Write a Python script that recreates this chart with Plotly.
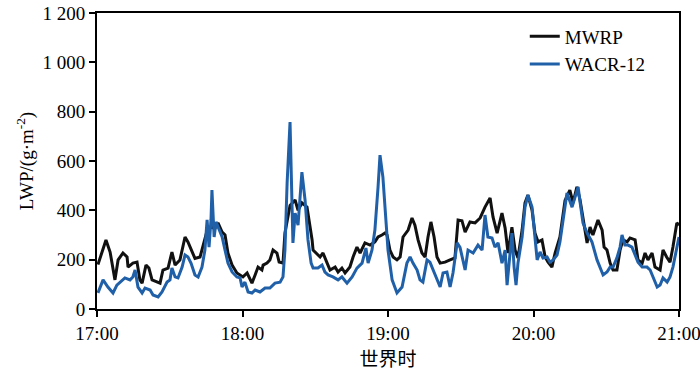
import plotly.graph_objects as go

# minutes after 17:00 and LWP values (g·m^-2)
mwrp_min = [0.4, 3.7, 5.4, 7.4, 8.7, 10.7, 12.4, 12.8, 14.8, 16.5, 17.7, 18.6, 20.2, 21.4, 22.7, 24.7, 26.0, 27.2, 29.3, 30.9,
            32.2, 34.2, 36.3, 37.5, 39.2, 40.4, 42.5, 44.5, 45.8, 48.7, 49.9, 51.6, 52.8, 54.0, 55.7, 57.7, 59.0, 60.2, 61.9, 63.9,
            65.2, 66.4, 68.0, 68.5, 70.1, 71.3, 72.6, 74.2, 75.1, 76.7, 77.5, 79.6, 81.7, 82.9, 84.5, 85.8, 86.6, 88.7, 89.1, 92.0,
            93.2, 94.9, 96.1, 98.2, 99.4, 101.0, 102.3, 104.3, 105.6, 107.2, 108.5, 110.5, 112.6, 114.6, 115.9, 117.5, 118.8, 119.6, 120.8, 122.1,
            123.7, 125.0, 126.2, 128.3, 129.9, 131.1, 132.4, 134.0, 135.3, 136.5, 137.7, 139.0, 140.2, 141.5, 143.5, 145.6, 147.6, 148.9, 150.5, 151.8,
            153.8, 155.9, 158.0, 160.0, 162.1, 163.3, 165.0, 167.0, 168.3, 169.5, 171.1, 172.4, 173.6, 175.3, 176.5, 177.7, 179.4, 180.6, 181.9, 183.5,
            184.8, 186.0, 187.6, 188.9, 190.9, 193.0, 195.0, 196.3, 197.9, 199.2, 200.4, 202.1, 203.3, 204.5, 206.6, 208.3, 209.1, 210.3, 211.6, 212.8,
            214.4, 215.7, 216.9, 218.6, 219.8, 221.9, 223.1, 224.8, 226.0, 227.2, 228.9, 230.1, 232.2, 233.4, 234.9, 236.3, 237.5, 239.1, 240.0]
mwrp_val = [180, 280, 231, 118, 199, 227, 211, 170, 186, 190, 118, 105, 178, 166, 118, 109, 105, 158, 166, 231,
            178, 199, 292, 272, 231, 205, 211, 280, 332, 328, 349, 312, 300, 227, 178, 146, 138, 130, 146, 105,
            138, 170, 158, 178, 186, 199, 239, 227, 190, 186, 308, 420, 442, 400, 430, 420, 413, 280, 239, 211,
            227, 186, 158, 170, 150, 166, 146, 170, 211, 251, 227, 268, 259, 272, 292, 300, 308, 300, 239, 211,
            199, 211, 292, 320, 369, 340, 280, 227, 211, 292, 353, 292, 211, 186, 190, 199, 207, 361, 358, 312,
            353, 349, 369, 413, 450, 373, 308, 389, 328, 227, 332, 239, 207, 320, 430, 462, 401, 308, 272, 280,
            211, 190, 170, 227, 292, 440, 482, 430, 495, 442, 373, 268, 332, 300, 361, 320, 251, 239, 186, 158,
            158, 239, 280, 272, 288, 280, 199, 186, 227, 199, 227, 170, 158, 239, 211, 190, 251, 349, 340]

wacr_min = [0.4, 2.5, 4.5, 6.6, 8.2, 9.5, 11.5, 13.6, 14.8, 15.7, 16.9, 18.6, 19.8, 21.9, 23.1, 25.2, 26.8, 28.9, 30.1, 30.9,
            32.2, 33.4, 35.1, 36.3, 37.5, 38.8, 40.4, 41.7, 43.3, 44.5, 45.4, 46.2, 47.0, 47.4, 48.3, 49.1, 49.9, 51.6, 52.8, 54.0,
            55.7, 57.7, 59.0, 59.8, 61.0, 62.3, 63.9, 65.2, 67.2, 69.3, 71.3, 73.4, 75.5, 76.7, 77.5, 78.4, 79.6, 80.8, 81.7, 82.9,
            84.5, 85.8, 87.0, 88.3, 89.1, 91.1, 92.8, 94.0, 95.3, 97.3, 99.4, 101.0, 103.1, 105.2, 107.2, 109.3, 110.9, 111.8, 113.4, 114.6,
            115.9, 116.7, 117.9, 119.2, 120.0, 121.7, 123.7, 125.8, 127.8, 129.1, 130.3, 132.0, 133.2, 134.4, 136.1, 137.3, 138.6, 140.2, 141.5, 142.7,
            144.3, 145.6, 146.8, 148.5, 149.7, 151.8, 153.0, 155.1, 157.1, 158.8, 160.0, 161.2, 162.9, 164.1, 165.4, 167.0, 168.3, 169.1, 170.3, 171.1,
            172.0, 172.8, 173.6, 175.3, 176.5, 177.7, 179.4, 180.6, 181.5, 182.7, 183.9, 185.6, 186.8, 188.1, 189.7, 190.9, 192.2, 193.8, 195.9, 197.1,
            198.4, 199.2, 200.4, 202.1, 204.1, 206.2, 207.4, 208.7, 210.3, 211.6, 212.8, 214.4, 215.7, 216.5, 217.7, 219.0, 220.6, 221.9, 223.1, 224.8,
            226.8, 228.1, 229.3, 231.0, 232.2, 233.4, 235.1, 236.3, 237.5, 238.8, 240.0]
wacr_val = [65, 118, 89, 65, 97, 109, 126, 118, 130, 158, 89, 65, 85, 77, 57, 49, 69, 109, 118, 166,
            130, 126, 170, 219, 211, 185, 138, 130, 170, 239, 361, 251, 361, 482, 292, 353, 332, 292, 239, 186,
            150, 130, 126, 89, 109, 69, 65, 77, 69, 85, 85, 105, 109, 130, 239, 511, 758, 268, 389, 340,
            555, 442, 280, 186, 166, 166, 178, 150, 138, 130, 118, 130, 105, 130, 166, 186, 247, 186, 239, 320,
            495, 624, 535, 373, 239, 118, 65, 89, 186, 211, 186, 158, 118, 109, 199, 190, 158, 118, 89, 146,
            150, 89, 146, 268, 250, 158, 239, 227, 259, 239, 381, 292, 288, 251, 268, 186, 239, 97, 211, 308,
            170, 97, 186, 292, 413, 462, 413, 292, 199, 231, 207, 211, 190, 199, 219, 272, 361, 470, 413, 454,
            495, 434, 349, 308, 272, 199, 166, 138, 150, 170, 170, 207, 251, 300, 259, 259, 251, 219, 190, 170,
            170, 158, 130, 89, 97, 126, 109, 130, 170, 239, 292]

x_tickvals = [0, 60, 120, 180, 240]
x_ticktext = ["17:00", "18:00", "19:00", "20:00", "21:00"]
y_tickvals = [0, 200, 400, 600, 800, 1000, 1200]
y_ticktext = ["0", "200", "400", "600", "800", "1 000", "1 200"]

fig = go.Figure()
fig.add_trace(go.Scatter(x=mwrp_min, y=mwrp_val, mode="lines", name="MWRP",
                         line=dict(color="#111111", width=3)))
fig.add_trace(go.Scatter(x=wacr_min, y=wacr_val, mode="lines", name="WACR-12",
                         line=dict(color="#2060a8", width=3)))

font = dict(family="Liberation Serif, Times New Roman, serif", size=19, color="black")
fig.update_layout(
    width=700, height=374,
    margin=dict(l=97, r=21, t=13, b=65),
    paper_bgcolor="white", plot_bgcolor="white",
    font=font,
    showlegend=True,
    legend=dict(x=0.735, y=0.985, xanchor="left", yanchor="top",
                bgcolor="rgba(0,0,0,0)", font=font, tracegroupgap=0),
)
fig.update_xaxes(range=[0, 240], tickvals=x_tickvals, ticktext=x_ticktext,
                 showline=True, linecolor="black", linewidth=2, mirror=True,
                 ticks="outside", ticklen=6, tickwidth=2, tickcolor="black",
                 showgrid=False, zeroline=False, automargin=False,
                 ticklabeloverflow="allow",
                 title=dict(text="世界时", font=dict(family="Noto Sans CJK SC", size=19), standoff=6))
fig.update_yaxes(range=[0, 1200], tickvals=y_tickvals, ticktext=y_ticktext,
                 showline=True, linecolor="black", linewidth=2, mirror=True,
                 ticks="outside", ticklen=6, tickwidth=2, tickcolor="black",
                 showgrid=False, zeroline=False, automargin=False,
                 ticklabeloverflow="allow",
                 title=dict(text="LWP/(g·m<sup>-2</sup>)", font=font, standoff=4))

fig.write_html("out.html", config={"displayModeBar": False},
               post_script="document.body.style.margin='0';document.body.style.overflow='hidden';")
